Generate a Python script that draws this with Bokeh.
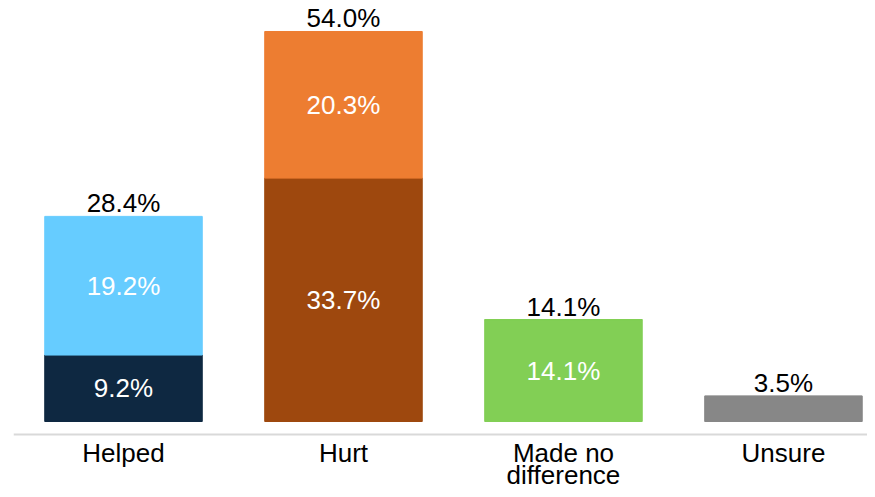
from bokeh.plotting import figure
from bokeh.models import ColumnDataSource, Span, Range1d
from bokeh.core.properties import value
from bokeh.embed import file_html
from bokeh.resources import INLINE

categories = ["Helped", "Hurt", "Made no\ndifference", "Unsure"]
bottom_vals = [9.2, 33.7, 14.1, 3.5]
top_vals = [19.2, 20.3, 0.0, 0.0]
totals = [28.4, 54.0, 14.1, 3.5]
bottom_labels = ["9.2%", "33.7%", "14.1%", ""]
top_labels = ["19.2%", "20.3%", "", ""]
total_labels = ["28.4%", "54.0%", "14.1%", "3.5%"]
bottom_colors = ["#0e2841", "#9e480e", "#82cf55", "#878787"]
top_colors = ["#66ccff", "#ed7d31", "#82cf55", "#878787"]

FONT = value("Liberation Sans")
FS = "26px"

xs = list(range(len(categories)))
line1 = [c.split("\n")[0] for c in categories]
line2 = [c.split("\n")[1] if "\n" in c else "" for c in categories]

src = ColumnDataSource(dict(
    x=xs,
    b=bottom_vals,
    t=top_vals,
    top_end=[b + t for b, t in zip(bottom_vals, top_vals)],
    total=totals,
    bmid=[b / 2 for b in bottom_vals],
    tmid=[b + t / 2 for b, t in zip(bottom_vals, top_vals)],
    blab=bottom_labels,
    tlab=top_labels,
    totlab=total_labels,
    bcol=bottom_colors,
    tcol=top_colors,
    l1=line1,
    l2=line2,
))

p = figure(width=867, height=489, output_backend="svg", toolbar_location=None,
           x_axis_location=None, y_axis_location=None,
           x_range=Range1d(-0.5, 3.382), y_range=Range1d(-9.415, 58.29),
           min_border_left=13, min_border_right=0, min_border_top=0, min_border_bottom=0)
p.outline_line_color = None
p.xgrid.visible = False
p.ygrid.visible = False
p.background_fill_color = "white"
p.border_fill_color = "white"

W = 0.716
p.vbar(x="x", bottom=0, top="b", width=W, color="bcol", source=src)
p.vbar(x="x", bottom="b", top="top_end", width=W, color="tcol", source=src)

p.text(x="x", y="bmid", text="blab", source=src, text_color="white",
       text_font=FONT, text_font_size=FS, text_align="center", text_baseline="middle")
p.text(x="x", y="tmid", text="tlab", source=src, text_color="white",
       text_font=FONT, text_font_size=FS, text_align="center", text_baseline="middle")
p.text(x="x", y="total", text="totlab", source=src, text_color="black",
       text_font=FONT, text_font_size=FS, text_align="center", text_baseline="bottom",
       y_offset=2)

p.add_layout(Span(location=-1.8, dimension="width", line_color="#d9d9d9", line_width=2))

p.text(x="x", y=-4.3, text="l1", source=src, text_color="black",
       text_font=FONT, text_font_size=FS, text_align="center", text_baseline="middle")
p.text(x="x", y=-7.45, text="l2", source=src, text_color="black",
       text_font=FONT, text_font_size=FS, text_align="center", text_baseline="middle")

open("out.html", "w").write(file_html(p, INLINE))
